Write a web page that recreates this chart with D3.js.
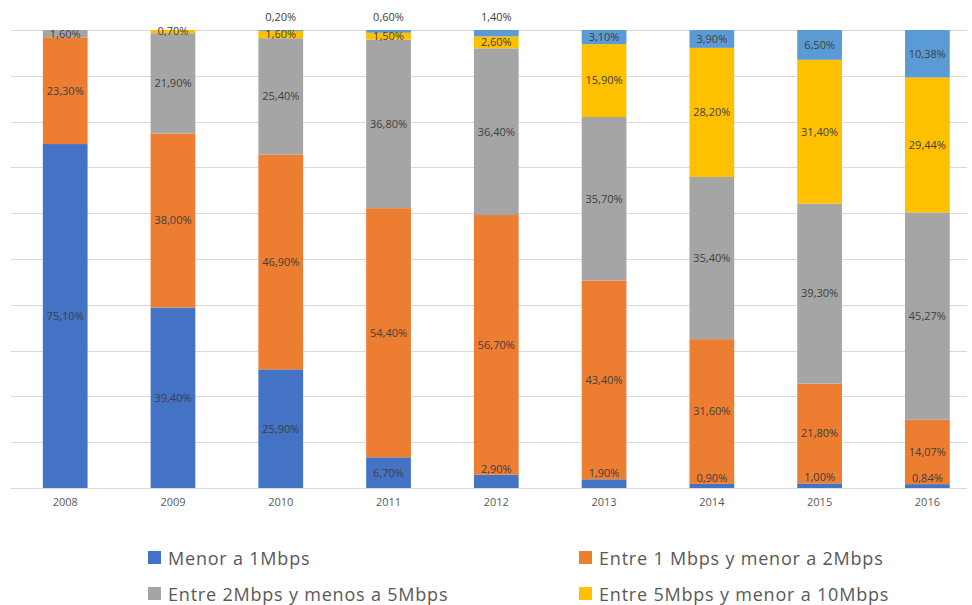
<!DOCTYPE html>
<html>
<head>
<meta charset="utf-8">
<script src="https://cdn.jsdelivr.net/npm/d3@7/dist/d3.min.js"></script>
<style>
  html, body { margin: 0; padding: 0; background: #fff; }
  svg { display: block; }
</style>
</head>
<body>
<svg id="chart" width="972" height="605"></svg>
<script>
// Años
const years = ["2008", "2009", "2010", "2011", "2012", "2013", "2014", "2015", "2016"];

// Participación por rango de velocidad (%)
const menor1   = [75.10, 39.40, 25.90, 6.70, 2.90, 1.90, 0.90, 1.00, 0.84];
const entre1y2 = [23.30, 38.00, 46.90, 54.40, 56.70, 43.40, 31.60, 21.80, 14.07];
const entre2y5 = [1.60, 21.90, 25.40, 36.80, 36.40, 35.70, 35.40, 39.30, 45.27];
const entre5y10 = [0, 0.70, 1.60, 1.50, 2.60, 15.90, 28.20, 31.40, 29.44];
const mayor10  = [0, 0, 0.20, 0.60, 1.40, 3.10, 3.90, 6.50, 10.38];

const seriesNames = [
  "Menor a 1Mbps",
  "Entre 1 Mbps y menor a 2Mbps",
  "Entre 2Mbps y menos a 5Mbps",
  "Entre 5Mbps y menor a 10Mbps",
  "Mayor a 10Mbps"
];
const seriesValues = [menor1, entre1y2, entre2y5, entre5y10, mayor10];
const colors = ["#4472C4", "#ED7D31", "#A5A5A5", "#FFC000", "#5B9BD5"];
const yTicks = [0, 10, 20, 30, 40, 50, 60, 70, 80, 90, 100];

// Tabla para d3.stack
const keys = seriesNames.map((_, i) => "s" + i);
const table = years.map((y, j) => {
  const row = { year: y };
  keys.forEach((k, i) => { row[k] = seriesValues[i][j]; });
  return row;
});
const stacked = d3.stack().keys(keys)(table);

const svg = d3.select("#chart");
const x = d3.scaleBand().domain(years).range([11.6, 981]).paddingInner(0.585).paddingOuter(0.29);
const y = d3.scaleLinear().domain([0, 100]).range([488, 30]);
const gridLeft = 11, gridRight = 967;
const font = "'Open Sans', 'Liberation Sans', sans-serif";

// Líneas de cuadrícula
svg.append("g").selectAll("line").data(yTicks).join("line")
  .attr("x1", gridLeft).attr("x2", gridRight)
  .attr("y1", d => Math.round(y(d)) + 0.5).attr("y2", d => Math.round(y(d)) + 0.5)
  .attr("stroke", "#d9d9d9").attr("stroke-width", 1);

// Barras apiladas
const layers = svg.append("g").selectAll("g").data(stacked).join("g")
  .attr("fill", (d, i) => colors[i]);
layers.selectAll("rect").data(d => d.filter(p => p[1] - p[0] > 0)).join("rect")
  .attr("x", d => x(d.data.year))
  .attr("width", x.bandwidth())
  .attr("y", d => y(d[1]))
  .attr("height", d => y(d[0]) - y(d[1]));

// Eje X
const xAxis = svg.append("g").attr("transform", "translate(0,488)")
  .call(d3.axisBottom(x).tickSize(0).tickPadding(10));
xAxis.select(".domain").remove();
xAxis.selectAll("text")
  .attr("font-family", font)
  .attr("font-size", 11).attr("fill", "#595959");
svg.append("line").attr("x1", gridLeft).attr("x2", gridRight)
  .attr("y1", 488.5).attr("y2", 488.5).attr("stroke", "#d9d9d9");

// Etiquetas de datos
const fmt = v => v.toFixed(2).replace(".", ",") + "%";
const labels = [];
stacked.forEach((layer, i) => {
  layer.forEach(p => {
    const v = p[1] - p[0];
    if (v <= 0) return;
    const cx = x(p.data.year) + x.bandwidth() / 2;
    let cy = (y(p[0]) + y(p[1])) / 2;
    if (i === 4 && v < 2) cy = 17;               // segmentos muy pequeños: sobre la barra
    if (i === 0 && v < 4) cy = y(p[1]) - 6;       // base muy delgada: justo encima del tramo
    labels.push({ cx, cy, text: fmt(v) });
  });
});
svg.append("g").selectAll("text").data(labels).join("text")
  .attr("x", d => d.cx).attr("y", d => d.cy)
  .attr("dy", "0.35em").attr("text-anchor", "middle")
  .attr("font-family", font)
  .attr("font-size", 11).attr("fill", "#404040")
  .text(d => d.text);

// Leyenda
const legendItems = [
  { i: 0, x: 148, y: 551 },
  { i: 1, x: 579, y: 551 },
  { i: 2, x: 148, y: 587 },
  { i: 3, x: 579, y: 587 }
];
const lg = svg.append("g").selectAll("g").data(legendItems).join("g")
  .attr("transform", d => `translate(${d.x},${d.y})`);
lg.append("rect").attr("width", 13).attr("height", 13).attr("fill", d => colors[d.i]);
lg.append("text").attr("x", 20).attr("y", 13.5)
  .attr("font-family", font)
  .attr("font-size", 18).attr("letter-spacing", 0.8).attr("fill", "#595959")
  .text(d => seriesNames[d.i]);
</script>
</body>
</html>
